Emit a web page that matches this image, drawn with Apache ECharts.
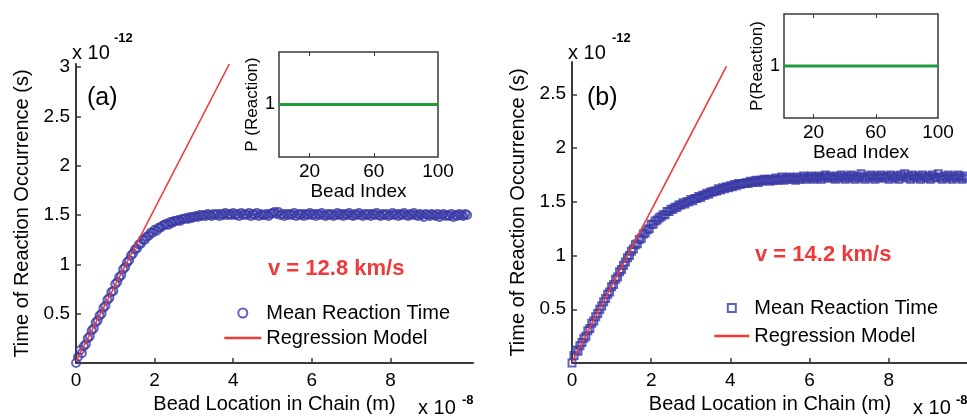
<!DOCTYPE html>
<html>
<head>
<meta charset="utf-8">
<script src="https://cdn.jsdelivr.net/npm/echarts@6/dist/echarts.min.js"></script>
<style>
html, body { margin: 0; padding: 0; background: #fff; }
#chart { width: 967px; height: 420px; }
</style>
</head>
<body>
<div id="chart"></div>
<script>
// bead position along the chain (x 1e-8 m)
var beadPos = [
	0,0.05,0.1,0.15,0.2,0.25,0.3,0.35,0.4,0.45,
	0.5,0.55,0.6,0.65,0.7,0.75,0.8,0.85,0.9,0.95,
	1,1.05,1.1,1.15,1.2,1.25,1.3,1.35,1.4,1.45,
	1.5,1.55,1.6,1.65,1.7,1.75,1.8,1.85,1.9,1.95,
	2,2.05,2.1,2.15,2.2,2.25,2.3,2.35,2.4,2.45,
	2.5,2.55,2.6,2.65,2.7,2.75,2.8,2.85,2.9,2.95,
	3,3.05,3.1,3.15,3.2,3.25,3.3,3.35,3.4,3.45,
	3.5,3.55,3.6,3.65,3.7,3.75,3.8,3.85,3.9,3.95,
	4,4.05,4.1,4.15,4.2,4.25,4.3,4.35,4.4,4.45,
	4.5,4.55,4.6,4.65,4.7,4.75,4.8,4.85,4.9,4.95,
	5,5.05,5.1,5.15,5.2,5.25,5.3,5.35,5.4,5.45,
	5.5,5.55,5.6,5.65,5.7,5.75,5.8,5.85,5.9,5.95,
	6,6.05,6.1,6.15,6.2,6.25,6.3,6.35,6.4,6.45,
	6.5,6.55,6.6,6.65,6.7,6.75,6.8,6.85,6.9,6.95,
	7,7.05,7.1,7.15,7.2,7.25,7.3,7.35,7.4,7.45,
	7.5,7.55,7.6,7.65,7.7,7.75,7.8,7.85,7.9,7.95,
	8,8.05,8.1,8.15,8.2,8.25,8.3,8.35,8.4,8.45,
	8.5,8.55,8.6,8.65,8.7,8.75,8.8,8.85,8.9,8.95,
	9,9.05,9.1,9.15,9.2,9.25,9.3,9.35,9.4,9.45,
	9.5,9.55,9.6,9.65,9.7,9.75,9.8,9.85,9.9,9.95
];

// mean reaction time, panel (a) (x 1e-12 s)
var meanTimeA = [
	0,0.06,0.13,0.10,0.17,0.19,0.25,0.27,0.33,0.35,
	0.41,0.43,0.48,0.50,0.56,0.58,0.64,0.66,0.72,0.73,
	0.80,0.82,0.87,0.89,0.95,0.97,1.02,1.04,1.09,1.11,
	1.15,1.16,1.20,1.21,1.25,1.25,1.28,1.29,1.32,1.32,
	1.35,1.34,1.37,1.37,1.39,1.40,1.41,1.40,1.43,1.42,
	1.44,1.44,1.45,1.44,1.46,1.46,1.47,1.46,1.48,1.47,
	1.48,1.49,1.48,1.50,1.49,1.50,1.49,1.51,1.50,1.49,
	1.51,1.50,1.51,1.49,1.51,1.50,1.52,1.50,1.51,1.50,
	1.52,1.50,1.51,1.49,1.52,1.50,1.51,1.50,1.52,1.49,
	1.51,1.50,1.52,1.49,1.51,1.50,1.50,1.51,1.49,1.51,
	1.52,1.53,1.51,1.53,1.50,1.51,1.49,1.51,1.50,1.51,
	1.50,1.52,1.49,1.51,1.50,1.51,1.49,1.51,1.50,1.52,
	1.50,1.51,1.49,1.51,1.50,1.52,1.50,1.49,1.51,1.50,
	1.51,1.49,1.50,1.52,1.50,1.51,1.49,1.51,1.50,1.52,
	1.50,1.49,1.51,1.50,1.52,1.50,1.49,1.51,1.50,1.51,
	1.49,1.51,1.50,1.52,1.50,1.49,1.51,1.50,1.51,1.49,
	1.50,1.52,1.50,1.51,1.49,1.51,1.50,1.52,1.50,1.49,
	1.51,1.50,1.52,1.50,1.49,1.51,1.50,1.48,1.51,1.50,
	1.49,1.51,1.50,1.49,1.51,1.48,1.50,1.51,1.49,1.50,
	1.49,1.51,1.48,1.50,1.49,1.51,1.50,1.49,1.51,1.50
];

// mean reaction time, panel (b) (x 1e-12 s)
var meanTimeB = [
	0,0.07,0.12,0.11,0.16,0.19,0.23,0.25,0.30,0.32,
	0.37,0.39,0.43,0.46,0.50,0.53,0.57,0.60,0.64,0.66,
	0.71,0.73,0.78,0.80,0.85,0.87,0.91,0.94,0.98,1.00,
	1.04,1.06,1.10,1.11,1.15,1.16,1.20,1.21,1.24,1.25,
	1.29,1.29,1.32,1.33,1.35,1.36,1.38,1.38,1.41,1.41,
	1.43,1.43,1.45,1.45,1.47,1.47,1.49,1.48,1.50,1.50,
	1.52,1.51,1.53,1.53,1.55,1.54,1.56,1.56,1.58,1.57,
	1.59,1.59,1.60,1.60,1.62,1.61,1.63,1.62,1.64,1.63,
	1.65,1.64,1.66,1.65,1.67,1.66,1.67,1.67,1.68,1.67,
	1.69,1.68,1.69,1.70,1.68,1.70,1.69,1.71,1.70,1.71,
	1.69,1.71,1.70,1.72,1.70,1.71,1.73,1.70,1.72,1.71,
	1.73,1.71,1.72,1.70,1.73,1.71,1.72,1.74,1.71,1.73,
	1.72,1.74,1.71,1.73,1.72,1.74,1.71,1.73,1.75,1.72,
	1.74,1.72,1.73,1.71,1.74,1.72,1.75,1.73,1.71,1.74,
	1.72,1.75,1.73,1.71,1.74,1.72,1.76,1.73,1.71,1.74,
	1.72,1.75,1.73,1.71,1.74,1.72,1.75,1.73,1.72,1.74,
	1.71,1.75,1.73,1.72,1.74,1.71,1.75,1.73,1.76,1.72,
	1.74,1.71,1.75,1.73,1.72,1.74,1.71,1.75,1.73,1.72,
	1.74,1.71,1.75,1.73,1.72,1.76,1.73,1.71,1.74,1.72,
	1.75,1.73,1.71,1.74,1.72,1.75,1.73,1.71,1.74,1.72
];

// regression line end points [x, t]
var regA = [[0, 0.02], [3.9, 3.03]];
var regB = [[0, 0.01], [3.9, 2.76]];

// inset: P(Reaction) over bead index
var beadIdx = [1, 100];
var probA = [1, 1];
var probB = [1, 1];

var mainXTicks = [0, 2, 4, 6, 8];
var mainYTicksA = [0.5, 1, 1.5, 2, 2.5, 3];
var mainYTicksB = [0.5, 1, 1.5, 2, 2.5];
var insetXTicks = [20, 60, 100];
var insetYTicks = [1];

var FONT = "'Liberation Sans', Arial, sans-serif";
var BLUE = '#3a3aa6';
var RED = '#f03a3a';
var GREEN = '#1f9a3c';
var AXIS = '#3a3a3a';
var SQUARE = 'path://M0,0L10,0L10,10L0,10Z';

function pairs(xs, ys) {
	var out = [];
	for (var i = 0; i < xs.length; i++) {
		out.push([xs[i], ys[i]]);
	}
	return out;
}

// main axes (only left and bottom lines, ticks inside)
function mainX(grid, max) {
	return {
		type: 'value', gridIndex: grid, min: 0, max: max,
		name: 'Bead Location in Chain (m)', nameLocation: 'middle', nameGap: 30,
		nameTextStyle: {fontSize: 20, color: '#000', fontFamily: FONT},
		axisLine: {show: true, onZero: false, lineStyle: {color: AXIS, width: 2}},
		axisTick: {show: true, inside: true, length: 5, customValues: mainXTicks, lineStyle: {color: AXIS, width: 1.5}},
		axisLabel: {show: true, margin: 8, fontSize: 19, color: '#000', fontFamily: FONT, customValues: mainXTicks},
		splitLine: {show: false}
	};
}
function mainY(grid, max, ticks) {
	return {
		type: 'value', gridIndex: grid, min: 0, max: max,
		name: 'Time of Reaction Occurrence (s)', nameLocation: 'middle', nameGap: 44,
		nameTextStyle: {fontSize: 20, color: '#000', fontFamily: FONT},
		axisLine: {show: true, onZero: false, lineStyle: {color: AXIS, width: 2}},
		axisTick: {show: true, inside: true, length: 5, customValues: ticks, lineStyle: {color: AXIS, width: 1.5}},
		axisLabel: {show: true, margin: 6, fontSize: 19, color: '#000', fontFamily: FONT, customValues: ticks},
		splitLine: {show: false}
	};
}
// inset axes
function insetX(grid, gap, withLabel, pos) {
	return {
		type: 'value', gridIndex: grid, min: 1, max: 100, position: pos,
		name: withLabel ? 'Bead Index' : '', nameLocation: 'middle', nameGap: gap,
		nameTextStyle: {fontSize: 19, color: '#000', fontFamily: FONT},
		axisLine: {show: false},
		axisTick: {show: true, inside: true, length: 4, customValues: [20, 60], lineStyle: {color: AXIS}},
		axisLabel: {show: withLabel, margin: 5, fontSize: 19, color: '#000', fontFamily: FONT, customValues: insetXTicks},
		splitLine: {show: false}
	};
}
function insetY(grid, name, gap) {
	return {
		type: 'value', gridIndex: grid, min: 0.5, max: 1.5,
		name: name, nameLocation: 'middle', nameGap: gap,
		nameTextStyle: {fontSize: 17, color: '#000', fontFamily: FONT},
		axisLine: {show: false},
		axisTick: {show: false},
		axisLabel: {show: true, margin: 4, fontSize: 18, color: '#000', fontFamily: FONT, customValues: insetYTicks},
		splitLine: {show: false}
	};
}

function txt(s, left, top, size, color, weight) {
	return {
		text: s, left: left, top: top, padding: 0,
		textStyle: {fontSize: size, color: color || '#000', fontWeight: weight || 'normal', fontFamily: FONT}
	};
}

var option = {
	animation: false,
	backgroundColor: '#fff',
	title: [
		txt('x 10', 72, 43, 20), txt('-12', 114, 32, 13, '#000', 'bold'),
		txt('x 10', 568, 43, 20), txt('-12', 612, 32, 13, '#000', 'bold'),
		txt('(a)', 87, 86, 25), txt('(b)', 587, 86, 25),
		txt('v = 12.8 km/s', 268, 258, 22, RED, 'bold'),
		txt('v = 14.2 km/s', 755, 244, 22, RED, 'bold'),
		txt('x 10', 418, 398, 20), txt('-8', 462, 394, 13, '#000', 'bold'),
		txt('x 10', 913, 398, 20), txt('-8', 956, 394, 13, '#000', 'bold')
	],
	legend: [
		{
			orient: 'vertical', left: 218, top: 298, itemWidth: 37, itemHeight: 9, itemGap: 5,
			symbolKeepAspect: true, selectedMode: false,
			textStyle: {fontSize: 20, color: '#000', fontFamily: FONT},
			data: [
				{name: 'Mean Reaction Time', icon: 'circle'},
				{name: 'Regression Model', itemStyle: {opacity: 0}, lineStyle: {width: 2.6}}
			]
		},
		{
			orient: 'vertical', left: 708, top: 293, itemWidth: 35, itemHeight: 8, itemGap: 8,
			symbolKeepAspect: true, selectedMode: false,
			textStyle: {fontSize: 20, color: '#000', fontFamily: FONT},
			data: [
				{name: 'Mean Reaction Time ', icon: SQUARE},
				{name: 'Regression Model ', itemStyle: {opacity: 0}, lineStyle: {width: 2.6}}
			]
		}
	],
	grid: [
		{left: 76, top: 64, width: 397, height: 299, outerBoundsMode: 'none'},
		{left: 279, top: 52, width: 159, height: 105, show: true, borderColor: AXIS, borderWidth: 1.5, backgroundColor: '#fff', outerBoundsMode: 'none'},
		{left: 572, top: 62, width: 396, height: 301, outerBoundsMode: 'none'},
		{left: 784, top: 14, width: 154, height: 104, show: true, borderColor: AXIS, borderWidth: 1.5, backgroundColor: '#fff', outerBoundsMode: 'none'}
	],
	xAxis: [
		mainX(0, 10.1),
		insetX(1, 22, true, 'bottom'),
		insetX(1, 0, false, 'top'),
		mainX(2, 10),
		insetX(3, 17, true, 'bottom'),
		insetX(3, 0, false, 'top')
	],
	yAxis: [
		mainY(0, 3.03, mainYTicksA),
		insetY(1, 'P (Reaction)', 9),
		mainY(2, 2.8, mainYTicksB),
		insetY(3, 'P(Reaction)', 15)
	],
	series: [
		{
			name: 'Mean Reaction Time', type: 'scatter', xAxisIndex: 0, yAxisIndex: 0,
			symbol: 'circle', symbolSize: 8,
			itemStyle: {color: 'rgba(0,0,0,0)', borderColor: BLUE, borderWidth: 2},
			data: pairs(beadPos, meanTimeA), z: 2
		},
		{
			name: 'Regression Model', type: 'line', xAxisIndex: 0, yAxisIndex: 0,
			symbol: 'none', clip: false,
			lineStyle: {color: RED, width: 1.6}, itemStyle: {color: RED},
			data: regA, z: 3
		},
		{
			name: 'pA', type: 'line', xAxisIndex: 1, yAxisIndex: 1, symbol: 'none',
			lineStyle: {color: GREEN, width: 3}, data: pairs(beadIdx, probA), z: 3
		},
		{
			name: 'Mean Reaction Time ', type: 'scatter', xAxisIndex: 3, yAxisIndex: 2,
			symbol: 'rect', symbolSize: 7,
			itemStyle: {color: 'rgba(0,0,0,0)', borderColor: BLUE, borderWidth: 2},
			data: pairs(beadPos, meanTimeB), z: 2
		},
		{
			name: 'Regression Model ', type: 'line', xAxisIndex: 3, yAxisIndex: 2,
			symbol: 'none', clip: false,
			lineStyle: {color: RED, width: 1.6}, itemStyle: {color: RED},
			data: regB, z: 3
		},
		{
			name: 'pB', type: 'line', xAxisIndex: 4, yAxisIndex: 3, symbol: 'none',
			lineStyle: {color: GREEN, width: 3}, data: pairs(beadIdx, probB), z: 3
		}
	]
};

var myChart = echarts.init(document.getElementById('chart'));
myChart.setOption(option);
</script>
</body>
</html>
